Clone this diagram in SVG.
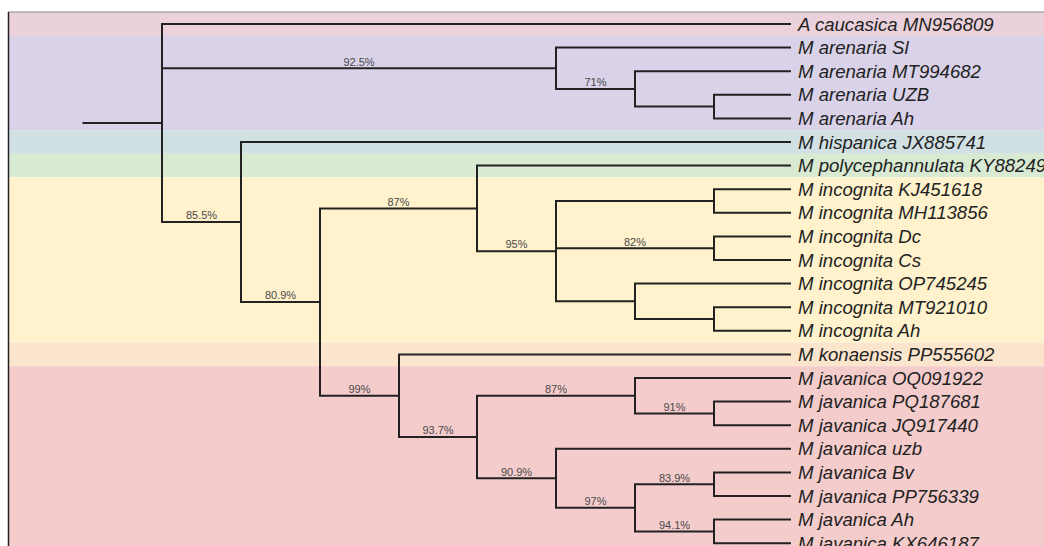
<svg xmlns="http://www.w3.org/2000/svg" width="1044" height="546" viewBox="0 0 1044 546">
<style>
.br{fill:none;stroke:#222;stroke-width:2;stroke-linecap:square}
.lf{font-family:"Liberation Sans",Arial,sans-serif;font-style:italic;font-size:18.6px;fill:#222}
.bs{font-family:"Liberation Sans",Arial,sans-serif;font-size:11px;fill:#4a4a4a;text-anchor:middle}
</style>
<rect width="1044" height="546" fill="#fff"/>
<g id="bands">
<rect x="8" y="12" width="1036" height="24" fill="#EAD1DC"/>
<rect x="8" y="36" width="1036" height="94.2" fill="#D9D2E9"/>
<rect x="8" y="130.2" width="1036" height="23.6" fill="#D0E0E3"/>
<rect x="8" y="153.8" width="1036" height="23.6" fill="#D9EAD3"/>
<rect x="8" y="177.4" width="1036" height="165.2" fill="#FFF2CC"/>
<rect x="8" y="342.6" width="1036" height="23.6" fill="#FCE5CD"/>
<rect x="8" y="366.2" width="1036" height="180" fill="#F4CCCC"/>
<line x1="8" y1="12" x2="1044" y2="12" stroke="#888" stroke-width="1.2"/>
<line x1="8.5" y1="12" x2="8.5" y2="546" stroke="#222" stroke-width="1.5"/>
</g>
<g id="connectors">
<path class="br" d="M83.5,123H162M162,24V222M162,24H790M162,68.25H556M162,222H241"/>
<path class="br" d="M556,47.6V88.9M556,47.6H790M556,88.9H635M635,71.2V106.6M635,71.2H790M635,106.6H714M714,94.8V118.4M714,94.8H790M714,118.4H790"/>
<path class="br" d="M241,142V302M241,142H790M241,302H320M320,208.4V395.7M320,208.4H477M320,395.7H399"/>
<path class="br" d="M477,165.6V251.15M477,165.6H790M477,251.15H556M556,201V301.3M556,201H714M556,248.2H714M556,301.3H635M714,189.2V212.8M714,189.2H790M714,212.8H790M714,236.4V260M714,236.4H790M714,260H790M635,283.6V319M635,283.6H790M635,319H714M714,307.2V330.8M714,307.2H790M714,330.8H790"/>
<path class="br" d="M399,354.4V437M399,354.4H790M399,437H477M477,395.7V478.3M477,395.7H635M477,478.3H556M635,378V413.4M635,378H790M635,413.4H714M714,401.6V425.2M714,401.6H790M714,425.2H790M556,448.8V507.8M556,448.8H790M556,507.8H635M635,484.2V531.4M635,484.2H714M635,531.4H714M714,472.4V496M714,472.4H790M714,496H790M714,519.6V543.2M714,519.6H790M714,543.2H790"/>
<g id="support">
<text class="bs" x="359" y="65.5">92.5%</text>
<text class="bs" x="595.5" y="86">71%</text>
<text class="bs" x="201.5" y="219">85.5%</text>
<text class="bs" x="280.5" y="299">80.9%</text>
<text class="bs" x="398.5" y="205.5">87%</text>
<text class="bs" x="516.5" y="248">95%</text>
<text class="bs" x="635" y="245.5">82%</text>
<text class="bs" x="359.5" y="392.5">99%</text>
<text class="bs" x="438" y="434">93.7%</text>
<text class="bs" x="556" y="392.5">87%</text>
<text class="bs" x="674.5" y="410.5">91%</text>
<text class="bs" x="516.5" y="475.5">90.9%</text>
<text class="bs" x="595.5" y="505">97%</text>
<text class="bs" x="674.5" y="481.5">83.9%</text>
<text class="bs" x="674.5" y="528.5">94.1%</text>
</g>
</g>
<g id="leaf-a-caucasica-mn956809"><text class="lf" x="798" y="30.5">A caucasica MN956809</text></g>
<g id="leaf-m-arenaria-sl"><text class="lf" x="798" y="54.1">M arenaria Sl</text></g>
<g id="leaf-m-arenaria-mt994682"><text class="lf" x="798" y="77.7">M arenaria MT994682</text></g>
<g id="leaf-m-arenaria-uzb"><text class="lf" x="798" y="101.3">M arenaria UZB</text></g>
<g id="leaf-m-arenaria-ah"><text class="lf" x="798" y="124.9">M arenaria Ah</text></g>
<g id="leaf-m-hispanica-jx885741"><text class="lf" x="798" y="148.5">M hispanica JX885741</text></g>
<g id="leaf-m-polycephannulata"><text class="lf" x="798" y="172.1">M polycephannulata KY882496</text></g>
<g id="leaf-m-incognita-kj451618"><text class="lf" x="798" y="195.7">M incognita KJ451618</text></g>
<g id="leaf-m-incognita-mh113856"><text class="lf" x="798" y="219.3">M incognita MH113856</text></g>
<g id="leaf-m-incognita-dc"><text class="lf" x="798" y="242.9">M incognita Dc</text></g>
<g id="leaf-m-incognita-cs"><text class="lf" x="798" y="266.5">M incognita Cs</text></g>
<g id="leaf-m-incognita-op745245"><text class="lf" x="798" y="290.1">M incognita OP745245</text></g>
<g id="leaf-m-incognita-mt921010"><text class="lf" x="798" y="313.7">M incognita MT921010</text></g>
<g id="leaf-m-incognita-ah"><text class="lf" x="798" y="337.3">M incognita Ah</text></g>
<g id="leaf-m-konaensis-pp555602"><text class="lf" x="798" y="360.9">M konaensis PP555602</text></g>
<g id="leaf-m-javanica-oq091922"><text class="lf" x="798" y="384.5">M javanica OQ091922</text></g>
<g id="leaf-m-javanica-pq187681"><text class="lf" x="798" y="408.1">M javanica PQ187681</text></g>
<g id="leaf-m-javanica-jq917440"><text class="lf" x="798" y="431.7">M javanica JQ917440</text></g>
<g id="leaf-m-javanica-uzb"><text class="lf" x="798" y="455.3">M javanica uzb</text></g>
<g id="leaf-m-javanica-bv"><text class="lf" x="798" y="478.9">M javanica Bv</text></g>
<g id="leaf-m-javanica-pp756339"><text class="lf" x="798" y="502.5">M javanica PP756339</text></g>
<g id="leaf-m-javanica-ah"><text class="lf" x="798" y="526.1">M javanica Ah</text></g>
<g id="leaf-m-javanica-kx646187"><text class="lf" x="798" y="549.7">M javanica KX646187</text></g>
</svg>
